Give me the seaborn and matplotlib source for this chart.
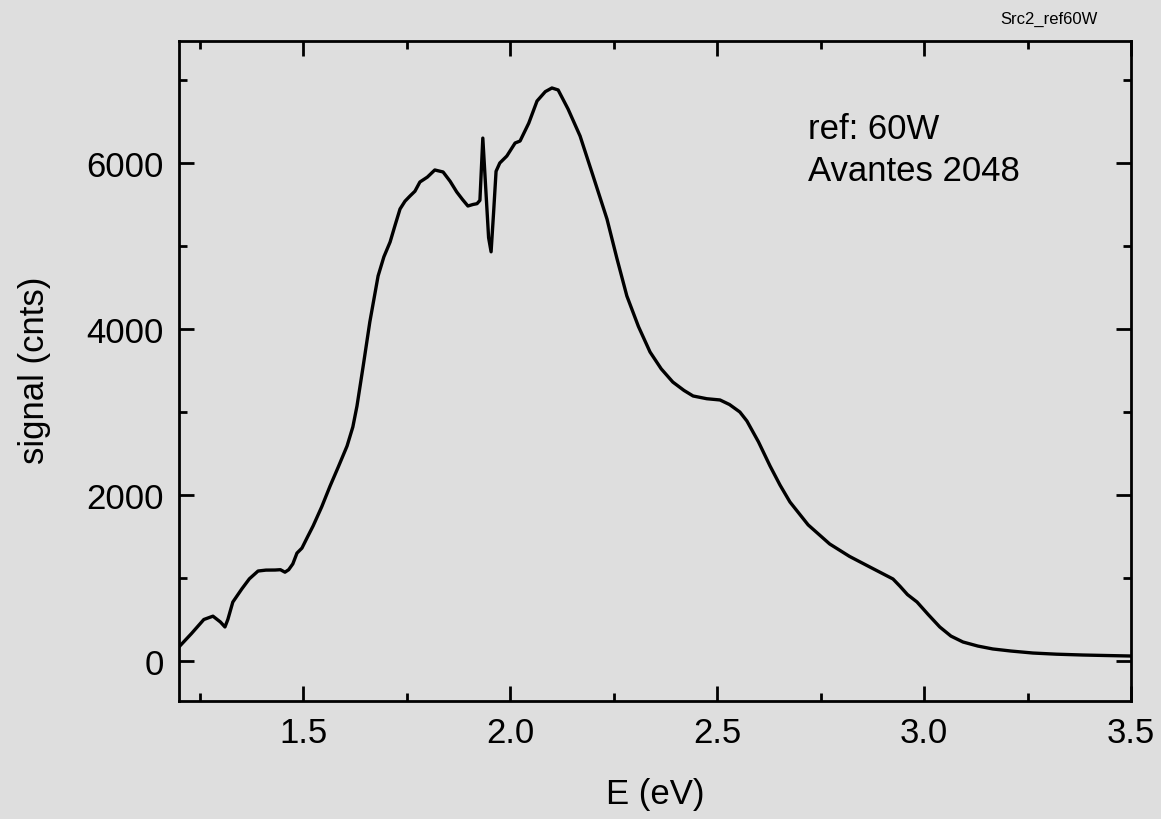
import numpy as np
import pandas as pd
import matplotlib
matplotlib.use("Agg")
import matplotlib.pyplot as plt
import seaborn as sns
from matplotlib.ticker import MultipleLocator

# ---- data ----
energy_ev = [1.200, 1.230, 1.260, 1.282, 1.300, 1.311, 1.318, 1.330, 1.352, 1.370,
             1.391, 1.410, 1.432, 1.445, 1.456, 1.465, 1.475, 1.485, 1.497, 1.510,
             1.524, 1.545, 1.565, 1.585, 1.606, 1.620, 1.630, 1.645, 1.661, 1.681,
             1.695, 1.710, 1.722, 1.734, 1.746, 1.758, 1.770, 1.782, 1.800, 1.818,
             1.838, 1.855, 1.871, 1.885, 1.898, 1.910, 1.920, 1.927, 1.934, 1.941,
             1.948, 1.954, 1.960, 1.966, 1.975, 1.992, 2.012, 2.024, 2.045, 2.065,
             2.085, 2.101, 2.116, 2.140, 2.169, 2.200, 2.234, 2.258, 2.282, 2.310,
             2.338, 2.365, 2.393, 2.420, 2.442, 2.475, 2.507, 2.530, 2.555, 2.572,
             2.600, 2.628, 2.652, 2.676, 2.720, 2.772, 2.820, 2.870, 2.925, 2.942,
             2.960, 2.983, 3.010, 3.038, 3.065, 3.094, 3.130, 3.166, 3.210, 3.263,
             3.320, 3.384, 3.440, 3.500]
signal_cnts = [170, 330, 500, 540, 470, 410, 500, 710, 870, 990,
               1084, 1095, 1096, 1100, 1070, 1100, 1170, 1300, 1360, 1490,
               1627, 1860, 2108, 2340, 2590, 2820, 3072, 3554, 4084, 4639,
               4870, 5048, 5250, 5446, 5540, 5602, 5660, 5771, 5830, 5916,
               5892, 5780, 5651, 5560, 5482, 5500, 5510, 5550, 6300, 5700,
               5100, 4930, 5400, 5900, 6000, 6084, 6241, 6265, 6480, 6747,
               6860, 6904, 6880, 6650, 6325, 5850, 5325, 4850, 4398, 4030,
               3723, 3520, 3361, 3260, 3193, 3160, 3145, 3090, 3000, 2892,
               2640, 2349, 2120, 1916, 1640, 1410, 1260, 1130, 988, 900,
               800, 711, 560, 410, 300, 229, 180, 145, 120, 96,
               82, 72, 66, 60]

x_major_ticks = [1.5, 2.0, 2.5, 3.0, 3.5]
y_major_ticks = [0, 2000, 4000, 6000]

df = pd.DataFrame({"E (eV)": energy_ev, "signal (cnts)": signal_cnts})

sns.set_style("ticks")
plt.rcParams["font.family"] = ["Liberation Sans", "DejaVu Sans"]
plt.rcParams["text.color"] = "black"
plt.rcParams["axes.labelcolor"] = "black"

bg = "#dedede"
fig = plt.figure(figsize=(11.61, 8.20), dpi=100, facecolor=bg)
ax = fig.add_axes([179 / 1161, 1 - 702 / 820, (1131 - 179) / 1161, (702 - 42) / 820])
ax.set_facecolor(bg)

sns.lineplot(data=df, x="E (eV)", y="signal (cnts)", ax=ax, color="black",
             linewidth=2.4, sort=False, estimator=None)

ax.set_xlim(1.2, 3.5)
ax.set_ylim(-482, 7470)
ax.set_xticks(x_major_ticks)
ax.set_xticklabels([f"{v:.1f}" for v in x_major_ticks])
ax.set_yticks(y_major_ticks)
ax.set_yticklabels([str(v) for v in y_major_ticks])
ax.xaxis.set_minor_locator(MultipleLocator(0.25))
ax.yaxis.set_minor_locator(MultipleLocator(1000))

for s in ax.spines.values():
    s.set_visible(True)
    s.set_linewidth(2.0)
    s.set_color("black")

ax.tick_params(which="both", direction="in", top=True, right=True,
               width=2.0, color="black", labelsize=25, labelcolor="black")
ax.tick_params(which="major", length=11, pad=11)
ax.tick_params(which="minor", length=6)

ax.set_xlabel("E (eV)", fontsize=25, color="black")
ax.set_ylabel("signal (cnts)", fontsize=25, color="black")
ax.xaxis.label.set_va("center")
ax.yaxis.label.set_va("center")
ax.xaxis.set_label_coords(0.5, (702 - 795) / 660)
ax.yaxis.set_label_coords((35 - 179) / 952, (702 - 370) / 660)

ax.text((808 - 179) / 952, (702 - 130) / 660, "ref: 60W", transform=ax.transAxes,
        fontsize=25, ha="left", va="center", color="black")
ax.text((808 - 179) / 952, (702 - 172) / 660, "Avantes 2048", transform=ax.transAxes,
        fontsize=25, ha="left", va="center", color="black")

fig.text(1098 / 1161, 1 - 19 / 820, "Src2_ref60W", fontsize=12, ha="right", va="center",
         color="black")

fig.savefig("out.png", dpi=100, facecolor=bg)
